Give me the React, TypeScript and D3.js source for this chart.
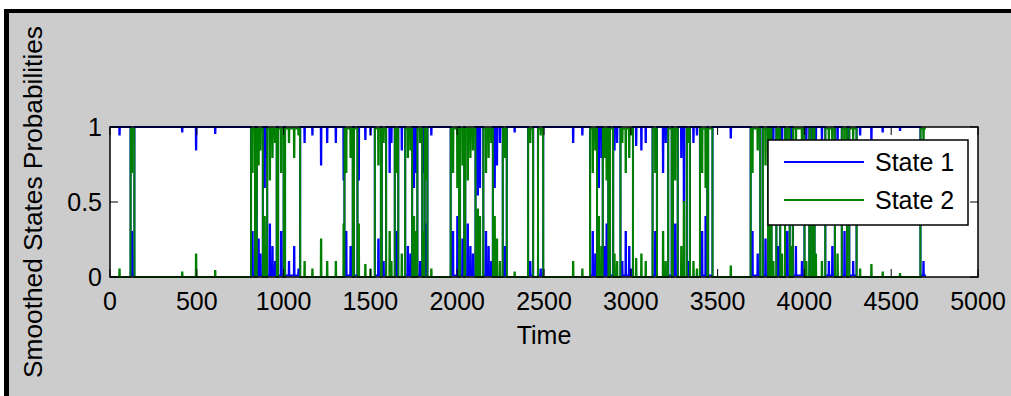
import React from "react";
import * as d3 from "d3";

// ---- data ----
const seriesNames = ["State 1", "State 2"];
const xTicks = [0, 500, 1000, 1500, 2000, 2500, 3000, 3500, 4000, 4500, 5000];
const yTicks = [0, 0.5, 1];
const sampleCount = 4700;
const lowValue = 0.01;

// stretches where the State 1 probability sits near 0: [start, end)
const lowStart = [118,
  812, 845, 905, 968, 1008,
  1350, 1405, 1525, 1565, 1640, 1700, 1770, 1812,
  1962, 2016, 2046, 2150, 2262, 2408, 2465,
  2765, 2838, 2880, 2940, 3125, 3215, 3242, 3322, 3398, 3445,
  3690, 3760, 3800, 3838, 3888, 3933, 4028, 4048, 4120, 4215, 4258, 4668];
const lowEnd = [140,
  835, 880, 960, 1000, 1095,
  1398, 1425, 1560, 1590, 1660, 1740, 1798, 1828,
  2010, 2040, 2105, 2205, 2285, 2437, 2495,
  2805, 2870, 2898, 3012, 3150, 3235, 3270, 3340, 3440, 3470,
  3745, 3790, 3810, 3860, 3915, 4000, 4035, 4058, 4175, 4245, 4300, 4700];

// short partial excursions of State 1 (rises inside low stretches, dips inside calm stretches)
const spikeTime = [54, 125, 415, 495, 605,
  820, 840, 855, 865, 890, 898, 920, 935, 950, 963, 985, 1004, 1030, 1060, 1085,
  1120, 1165, 1215, 1250, 1300, 1345,
  1360, 1385, 1432, 1470, 1500, 1545, 1575, 1610, 1620, 1650, 1680, 1715, 1730, 1750, 1760, 1785, 1805, 1820, 1850,
  1975, 2000, 2013, 2030, 2043, 2060, 2075, 2090, 2118, 2130, 2165, 2180, 2195, 2215, 2228, 2245, 2275, 2330, 2420, 2480,
  2667, 2720, 2780, 2795, 2815, 2830, 2848, 2860, 2875, 2905, 2920, 2950, 2970, 2990, 3000, 3030, 3060, 3085,
  3140, 3185, 3200, 3255, 3290, 3305, 3330, 3360, 3380, 3410, 3430, 3575,
  3700, 3730, 3775, 3820, 3850, 3870, 3900, 3925, 3950, 3985, 4010, 4065, 4100, 4140, 4160, 4190, 4230, 4280,
  4320, 4385, 4450, 4550, 4685];
const spikeLevel = [0.95, 0.3, 0.97, 0.85, 0.96,
  0.3, 0.7, 0.25, 0.15, 0.6, 0.8, 0.35, 0.2, 0.1, 0.75, 0.3, 0.85, 0.1, 0.2, 0.05,
  0.9, 0.95, 0.75, 0.9, 0.9, 0.65,
  0.3, 0.2, 0.65, 0.92, 0.95, 0.25, 0.1, 0.7, 0.9, 0.3, 0.85, 0.2, 0.15, 0.6, 0.7, 0.1, 0.7, 0.35, 0.95,
  0.3, 0.4, 0.85, 0.25, 0.75, 0.35, 0.2, 0.15, 0.55, 0.6, 0.3, 0.2, 0.1, 0.6, 0.75, 0.9, 0.2, 0.97, 0.1, 0.05,
  0.9, 0.95, 0.3, 0.15, 0.6, 0.8, 0.2, 0.35, 0.7, 0.85, 0.9, 0.1, 0.3, 0.2, 0.05, 0.88, 0.85, 0.9,
  0.3, 0.7, 0.9, 0.35, 0.8, 0.5, 0.1, 0.9, 0.95, 0.3, 0.4, 0.93,
  0.3, 0.15, 0.25, 0.9, 0.2, 0.85, 0.3, 0.8, 0.2, 0.1, 0.9, 0.85, 0.9, 0.1, 0.2, 0.85, 0.3, 0.1,
  0.95, 0.92, 0.97, 0.98, 0.1];

function buildSeries() {
  const s1: number[] = new Array(sampleCount).fill(1);
  lowStart.forEach((s, i) => {
    for (let t = s; t < lowEnd[i] && t < sampleCount; t++) s1[t] = lowValue;
  });
  spikeTime.forEach((d, i) => {
    for (let t = d - 1; t <= d + 1; t++) if (t >= 0 && t < sampleCount) s1[t] = spikeLevel[i];
  });
  const p1 = s1.map((v, i) => [i + 1, v] as [number, number]);
  const p2 = s1.map((v, i) => [i + 1, 1 - v] as [number, number]);
  return [p1, p2];
}

const W = 1011, H = 396;
const L = 110, R = 978, T = 127, B = 277;
const font = "'Liberation Sans', Arial, sans-serif";

export default function App() {
  const x = d3.scaleLinear().domain([0, 5000]).range([L, R]);
  const y = d3.scaleLinear().domain([0, 1]).range([B, T]);
  const [p1, p2] = buildSeries();
  const line = d3.line<[number, number]>().x(d => x(d[0])).y(d => y(d[1]));
  const colors = ["#0000ff", "#008000"];
  const tickLen = 8;

  return (
    <div style={{ position: "fixed", left: 0, top: 0, width: W, height: H }}>
      <svg width={W} height={H} style={{ display: "block" }}>
        <rect x={0} y={0} width={W} height={H} fill="#ffffff" />
        <rect x={4} y={9} width={W - 4} height={H - 9} fill="#000000" />
        <rect x={9} y={13} width={W - 9} height={H - 13} fill="#cccccc" />
        <defs>
          <clipPath id="plotclip">
            <rect x={L} y={T - 2} width={R - L} height={B - T + 4} />
          </clipPath>
        </defs>
        <rect x={L} y={T} width={R - L} height={B - T} fill="#ffffff" />
        <g clipPath="url(#plotclip)">
          <path d={line(p1) || ""} fill="none" stroke={colors[0]} strokeWidth={2} />
          <path d={line(p2) || ""} fill="none" stroke={colors[1]} strokeWidth={2} />
        </g>
        <rect x={L} y={T} width={R - L} height={B - T} fill="none" stroke="#000" strokeWidth={1.5} />
        {xTicks.map(t => (
          <g key={"x" + t}>
            <line x1={x(t)} x2={x(t)} y1={B} y2={B - tickLen} stroke="#000" />
            <line x1={x(t)} x2={x(t)} y1={T} y2={T + tickLen} stroke="#000" />
            <text x={x(t)} y={310} textAnchor="middle" fontFamily={font} fontSize={25} fill="#000">{t}</text>
          </g>
        ))}
        {yTicks.map(t => (
          <g key={"y" + t}>
            <line x1={L} x2={L + tickLen} y1={y(t)} y2={y(t)} stroke="#000" />
            <line x1={R} x2={R - tickLen} y1={y(t)} y2={y(t)} stroke="#000" />
            <text x={102} y={y(t) + 9} textAnchor="end" fontFamily={font} fontSize={25} fill="#000">{t}</text>
          </g>
        ))}
        <text x={(L + R) / 2} y={344} textAnchor="middle" fontFamily={font} fontSize={25} fill="#000">Time</text>
        <text transform={`translate(42, 202) rotate(-90)`} textAnchor="middle" fontFamily={font} fontSize={25}
          textLength={352} lengthAdjust="spacingAndGlyphs" fill="#000">Smoothed States Probabilities</text>
        <g>
          <rect x={768} y={140} width={200} height={85} fill="#ffffff" stroke="#000" strokeWidth={1.5} />
          {seriesNames.map((n, i) => (
            <g key={n}>
              <line x1={784} x2={864} y1={162 + i * 38} y2={162 + i * 38} stroke={colors[i]} strokeWidth={2} />
              <text x={875} y={171 + i * 38} fontFamily={font} fontSize={25} fill="#000">{n}</text>
            </g>
          ))}
        </g>
      </svg>
    </div>
  );
}
